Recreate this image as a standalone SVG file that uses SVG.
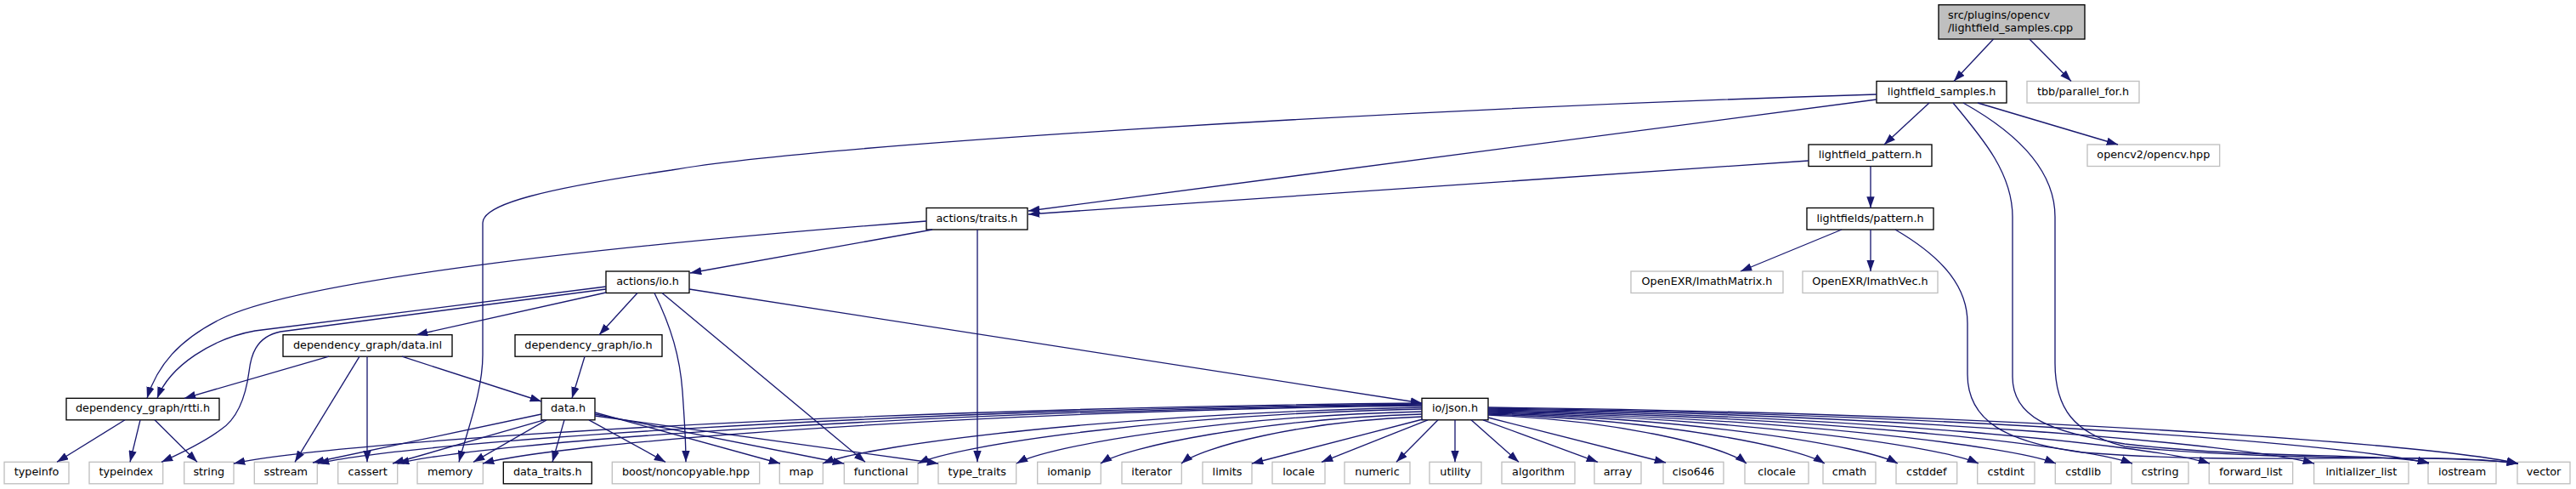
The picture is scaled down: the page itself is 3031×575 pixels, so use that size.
<svg xmlns="http://www.w3.org/2000/svg" width="3031" height="575" viewBox="0 0 3031 575">
<style>
rect{fill:#fff;stroke:#000;stroke-width:1.33}
.g rect{stroke:#bfbfbf}
#root rect{fill:#bfbfbf}
text{font-family:"DejaVu Sans",sans-serif;font-size:12.8px;text-anchor:middle;fill:#000}
#root text{text-anchor:start}
#edges path{fill:none;stroke:#191970;stroke-width:1.33;marker-end:url(#a)}
</style>
<defs>
<marker id="a" viewBox="0 0 13.3 9.34" refX="13.3" refY="4.67" markerWidth="13.3" markerHeight="9.34" markerUnits="userSpaceOnUse" orient="auto">
<path d="M0,0 L13.3,4.67 L0,9.34 Z" fill="#191970"/>
</marker>
</defs>
<g id="nodes">
<g id="root"><rect x="2281" y="5.7" width="172" height="40.3"/><text x="2292" y="22">src/plugins/opencv</text><text x="2292" y="37">/lightfield_samples.cpp</text></g>
<g id="n_lfs"><rect x="2208" y="95.5" width="153" height="25.5"/><text x="2284.5" y="111.5">lightfield_samples.h</text></g>
<g id="n_tbb" class="g"><rect x="2385" y="95.5" width="132" height="25.5"/><text x="2451" y="111.5">tbb/parallel_for.h</text></g>
<g id="n_lfp"><rect x="2128" y="170" width="145" height="25.5"/><text x="2200.5" y="186">lightfield_pattern.h</text></g>
<g id="n_ocv" class="g"><rect x="2456" y="170" width="155.7" height="25.5"/><text x="2533.8" y="186">opencv2/opencv.hpp</text></g>
<g id="n_traits"><rect x="1090" y="244.5" width="119" height="25.5"/><text x="1149.5" y="260.5">actions/traits.h</text></g>
<g id="n_lfpat"><rect x="2126" y="244.5" width="149" height="25.5"/><text x="2200.5" y="260.5">lightfields/pattern.h</text></g>
<g id="n_aio"><rect x="713" y="319" width="98" height="25.5"/><text x="762" y="335">actions/io.h</text></g>
<g id="n_imat" class="g"><rect x="1919" y="319" width="179" height="25.5"/><text x="2008.5" y="335">OpenEXR/ImathMatrix.h</text></g>
<g id="n_ivec" class="g"><rect x="2121" y="319" width="159" height="25.5"/><text x="2200.5" y="335">OpenEXR/ImathVec.h</text></g>
<g id="n_dinl"><rect x="333" y="393.7" width="199" height="25.5"/><text x="432.5" y="409.7">dependency_graph/data.inl</text></g>
<g id="n_dio"><rect x="606" y="393.7" width="173" height="25.5"/><text x="692.5" y="409.7">dependency_graph/io.h</text></g>
<g id="n_rtti"><rect x="78" y="468.3" width="180" height="25.5"/><text x="168" y="484.3">dependency_graph/rtti.h</text></g>
<g id="n_data"><rect x="637" y="468.3" width="63" height="25.5"/><text x="668.5" y="484.3">data.h</text></g>
<g id="n_json"><rect x="1673" y="468.3" width="78" height="25.5"/><text x="1712" y="484.3">io/json.h</text></g>
<g id="l_typeinfo" class="g"><rect x="5" y="543.3" width="76" height="25.5"/><text x="43" y="559.3">typeinfo</text></g>
<g id="l_typeindex" class="g"><rect x="105" y="543.3" width="86.7" height="25.5"/><text x="148.3" y="559.3">typeindex</text></g>
<g id="l_string" class="g"><rect x="216.7" y="543.3" width="58.3" height="25.5"/><text x="245.8" y="559.3">string</text></g>
<g id="l_sstream" class="g"><rect x="299.3" y="543.3" width="74" height="25.5"/><text x="336.3" y="559.3">sstream</text></g>
<g id="l_cassert" class="g"><rect x="397.7" y="543.3" width="70" height="25.5"/><text x="432.7" y="559.3">cassert</text></g>
<g id="l_memory" class="g"><rect x="491" y="543.3" width="77.3" height="25.5"/><text x="529.7" y="559.3">memory</text></g>
<g id="l_data_traits"><rect x="592.3" y="543.3" width="104" height="25.5"/><text x="644.3" y="559.3">data_traits.h</text></g>
<g id="l_boost" class="g"><rect x="720.3" y="543.3" width="173.4" height="25.5"/><text x="807" y="559.3">boost/noncopyable.hpp</text></g>
<g id="l_map" class="g"><rect x="917.3" y="543.3" width="51" height="25.5"/><text x="942.8" y="559.3">map</text></g>
<g id="l_functional" class="g"><rect x="993.3" y="543.3" width="86.7" height="25.5"/><text x="1036.7" y="559.3">functional</text></g>
<g id="l_type_traits" class="g"><rect x="1104" y="543.3" width="91.7" height="25.5"/><text x="1149.8" y="559.3">type_traits</text></g>
<g id="l_iomanip" class="g"><rect x="1220.7" y="543.3" width="74.6" height="25.5"/><text x="1258" y="559.3">iomanip</text></g>
<g id="l_iterator" class="g"><rect x="1320" y="543.3" width="70.3" height="25.5"/><text x="1355.2" y="559.3">iterator</text></g>
<g id="l_limits" class="g"><rect x="1415" y="543.3" width="58" height="25.5"/><text x="1444" y="559.3">limits</text></g>
<g id="l_locale" class="g"><rect x="1497" y="543.3" width="62" height="25.5"/><text x="1528" y="559.3">locale</text></g>
<g id="l_numeric" class="g"><rect x="1582" y="543.3" width="77" height="25.5"/><text x="1620.5" y="559.3">numeric</text></g>
<g id="l_utility" class="g"><rect x="1682" y="543.3" width="61" height="25.5"/><text x="1712.5" y="559.3">utility</text></g>
<g id="l_algorithm" class="g"><rect x="1767" y="543.3" width="86" height="25.5"/><text x="1810" y="559.3">algorithm</text></g>
<g id="l_array" class="g"><rect x="1876" y="543.3" width="55" height="25.5"/><text x="1903.5" y="559.3">array</text></g>
<g id="l_ciso646" class="g"><rect x="1957" y="543.3" width="71" height="25.5"/><text x="1992.5" y="559.3">ciso646</text></g>
<g id="l_clocale" class="g"><rect x="2053" y="543.3" width="75" height="25.5"/><text x="2090.5" y="559.3">clocale</text></g>
<g id="l_cmath" class="g"><rect x="2145" y="543.3" width="62" height="25.5"/><text x="2176" y="559.3">cmath</text></g>
<g id="l_cstddef" class="g"><rect x="2231" y="543.3" width="71.7" height="25.5"/><text x="2266.8" y="559.3">cstddef</text></g>
<g id="l_cstdint" class="g"><rect x="2326.7" y="543.3" width="67.3" height="25.5"/><text x="2360.3" y="559.3">cstdint</text></g>
<g id="l_cstdlib" class="g"><rect x="2418.3" y="543.3" width="65.7" height="25.5"/><text x="2451.2" y="559.3">cstdlib</text></g>
<g id="l_cstring" class="g"><rect x="2508.3" y="543.3" width="66.7" height="25.5"/><text x="2541.7" y="559.3">cstring</text></g>
<g id="l_forward_list" class="g"><rect x="2599.3" y="543.3" width="98.4" height="25.5"/><text x="2648.5" y="559.3">forward_list</text></g>
<g id="l_initializer_list" class="g"><rect x="2722.7" y="543.3" width="111.3" height="25.5"/><text x="2778.3" y="559.3">initializer_list</text></g>
<g id="l_iostream" class="g"><rect x="2857" y="543.3" width="80" height="25.5"/><text x="2897" y="559.3">iostream</text></g>
<g id="l_vector" class="g"><rect x="2962" y="543.3" width="62" height="25.5"/><text x="2993" y="559.3">vector</text></g>
</g>
<g id="edges">
<path d="M2345.5,46 L2299,95.5"/>
<path d="M2388,46 L2437,95.5"/>
<path d="M2208,111 C1600,130 950,172 790,200 C640,222 568,240 568,262 L568,417 C568,460 550,505 540,543.3"/>
<path d="M2208,117 L1210,248"/>
<path d="M2270,121 L2217,170"/>
<path d="M2327,121 L2492,170"/>
<path d="M2298,121 C2335,165 2368,205 2368,255 L2368,443 C2368,490 2410,508 2500,522 C2650,540 2800,532 2858,544"/>
<path d="M2310,121 C2380,160 2418,205 2418,255 L2418,427 C2418,480 2440,510 2500,525 C2700,545 2880,533 2963,545"/>
<path d="M2128,189 L1210,252"/>
<path d="M2201,195.5 L2201,244.5"/>
<path d="M1097,270 L812,321"/>
<path d="M1090,260 C700,290 350,330 260,375 C210,400 185,430 173,468.3"/>
<path d="M1150,270 L1150,543.3"/>
<path d="M2167,270 L2048,319"/>
<path d="M2201,270 L2201,319"/>
<path d="M2230,270 C2290,305 2315,340 2315,380 L2315,440 C2315,495 2360,520 2450,532 C2650,548 2850,530 2963,545"/>
<path d="M713,337 L300,389 C250,398 200,430 185,468.3"/>
<path d="M713,340 L330,390 C300,396 295,420 293,437 C288,475 275,495 260,505 C240,520 215,532 190,543.3"/>
<path d="M713,344 L490,393.7"/>
<path d="M750,344.5 L705,393.7"/>
<path d="M770,344.5 C790,385 800,420 803,460 C805,490 807,515 807,543.3"/>
<path d="M779,344.5 L1018,543.3"/>
<path d="M811,340 L1673,474"/>
<path d="M387,419.2 L217,468.3"/>
<path d="M423,419.2 L347,543.3"/>
<path d="M432,419.2 L432,543.3"/>
<path d="M473,419.2 L637,472"/>
<path d="M688,419.2 L673,468.3"/>
<path d="M147,493.8 L67,543.3"/>
<path d="M165,493.8 L153,543.3"/>
<path d="M182,493.8 L232,543.3"/>
<path d="M637,487 L368,544"/>
<path d="M640,493.8 L462,545"/>
<path d="M643,493.8 L557,543.3"/>
<path d="M664,493.8 L650,543.3"/>
<path d="M693,493.8 L783,543.3"/>
<path d="M700,485 L918,545"/>
<path d="M700,487 L993,545"/>
<path d="M700,489 L1104,545"/>
<path d="M1673,474 C974,481 387,520 275,545"/>
<path d="M1673,475 C1023,482 477,520.5 374,545"/>
<path d="M1673,476 C1070,483 563,521 468,545"/>
<path d="M1673,477 C1120,484 656,521 568,545"/>
<path d="M1673,479 C1320,486 1024,522 968,545"/>
<path d="M1673,481 C1376,487 1127,523 1080,545"/>
<path d="M1673,484 C1434,490 1234,524 1196,545"/>
<path d="M1673,487 C1484,493 1325,525 1295,545"/>
<path d="M1673,490 C1531,495 1413,526 1390,545"/>
<path d="M1674,493 L1473,545"/>
<path d="M1680,493.8 L1555,543.3"/>
<path d="M1692,493.8 L1643,543.3"/>
<path d="M1712,493.8 L1712,543.3"/>
<path d="M1731,493.8 L1787,543.3"/>
<path d="M1745,493.8 L1880,543.3"/>
<path d="M1751,491 L1960,544"/>
<path d="M1751,488 C1903,494 2031,525 2055,545"/>
<path d="M1751,487 C1949,493 2115,525 2147,545"/>
<path d="M1751,486 C1992,492 2194,524 2233,545"/>
<path d="M1751,485 C2040,491 2282,524 2328,545"/>
<path d="M1751,484 C2085,490 2366,524 2419,545"/>
<path d="M1751,483 C2130,489 2448,523 2509,545"/>
<path d="M1751,482 C2176,488 2532,523 2600,545"/>
<path d="M1751,481 C2237,487 2645,523 2723,545"/>
<path d="M1751,480 C2305,487 2769,522 2858,545"/>
<path d="M1751,479 C2357,486 2866,522 2963,545"/>
</g>
</svg>
